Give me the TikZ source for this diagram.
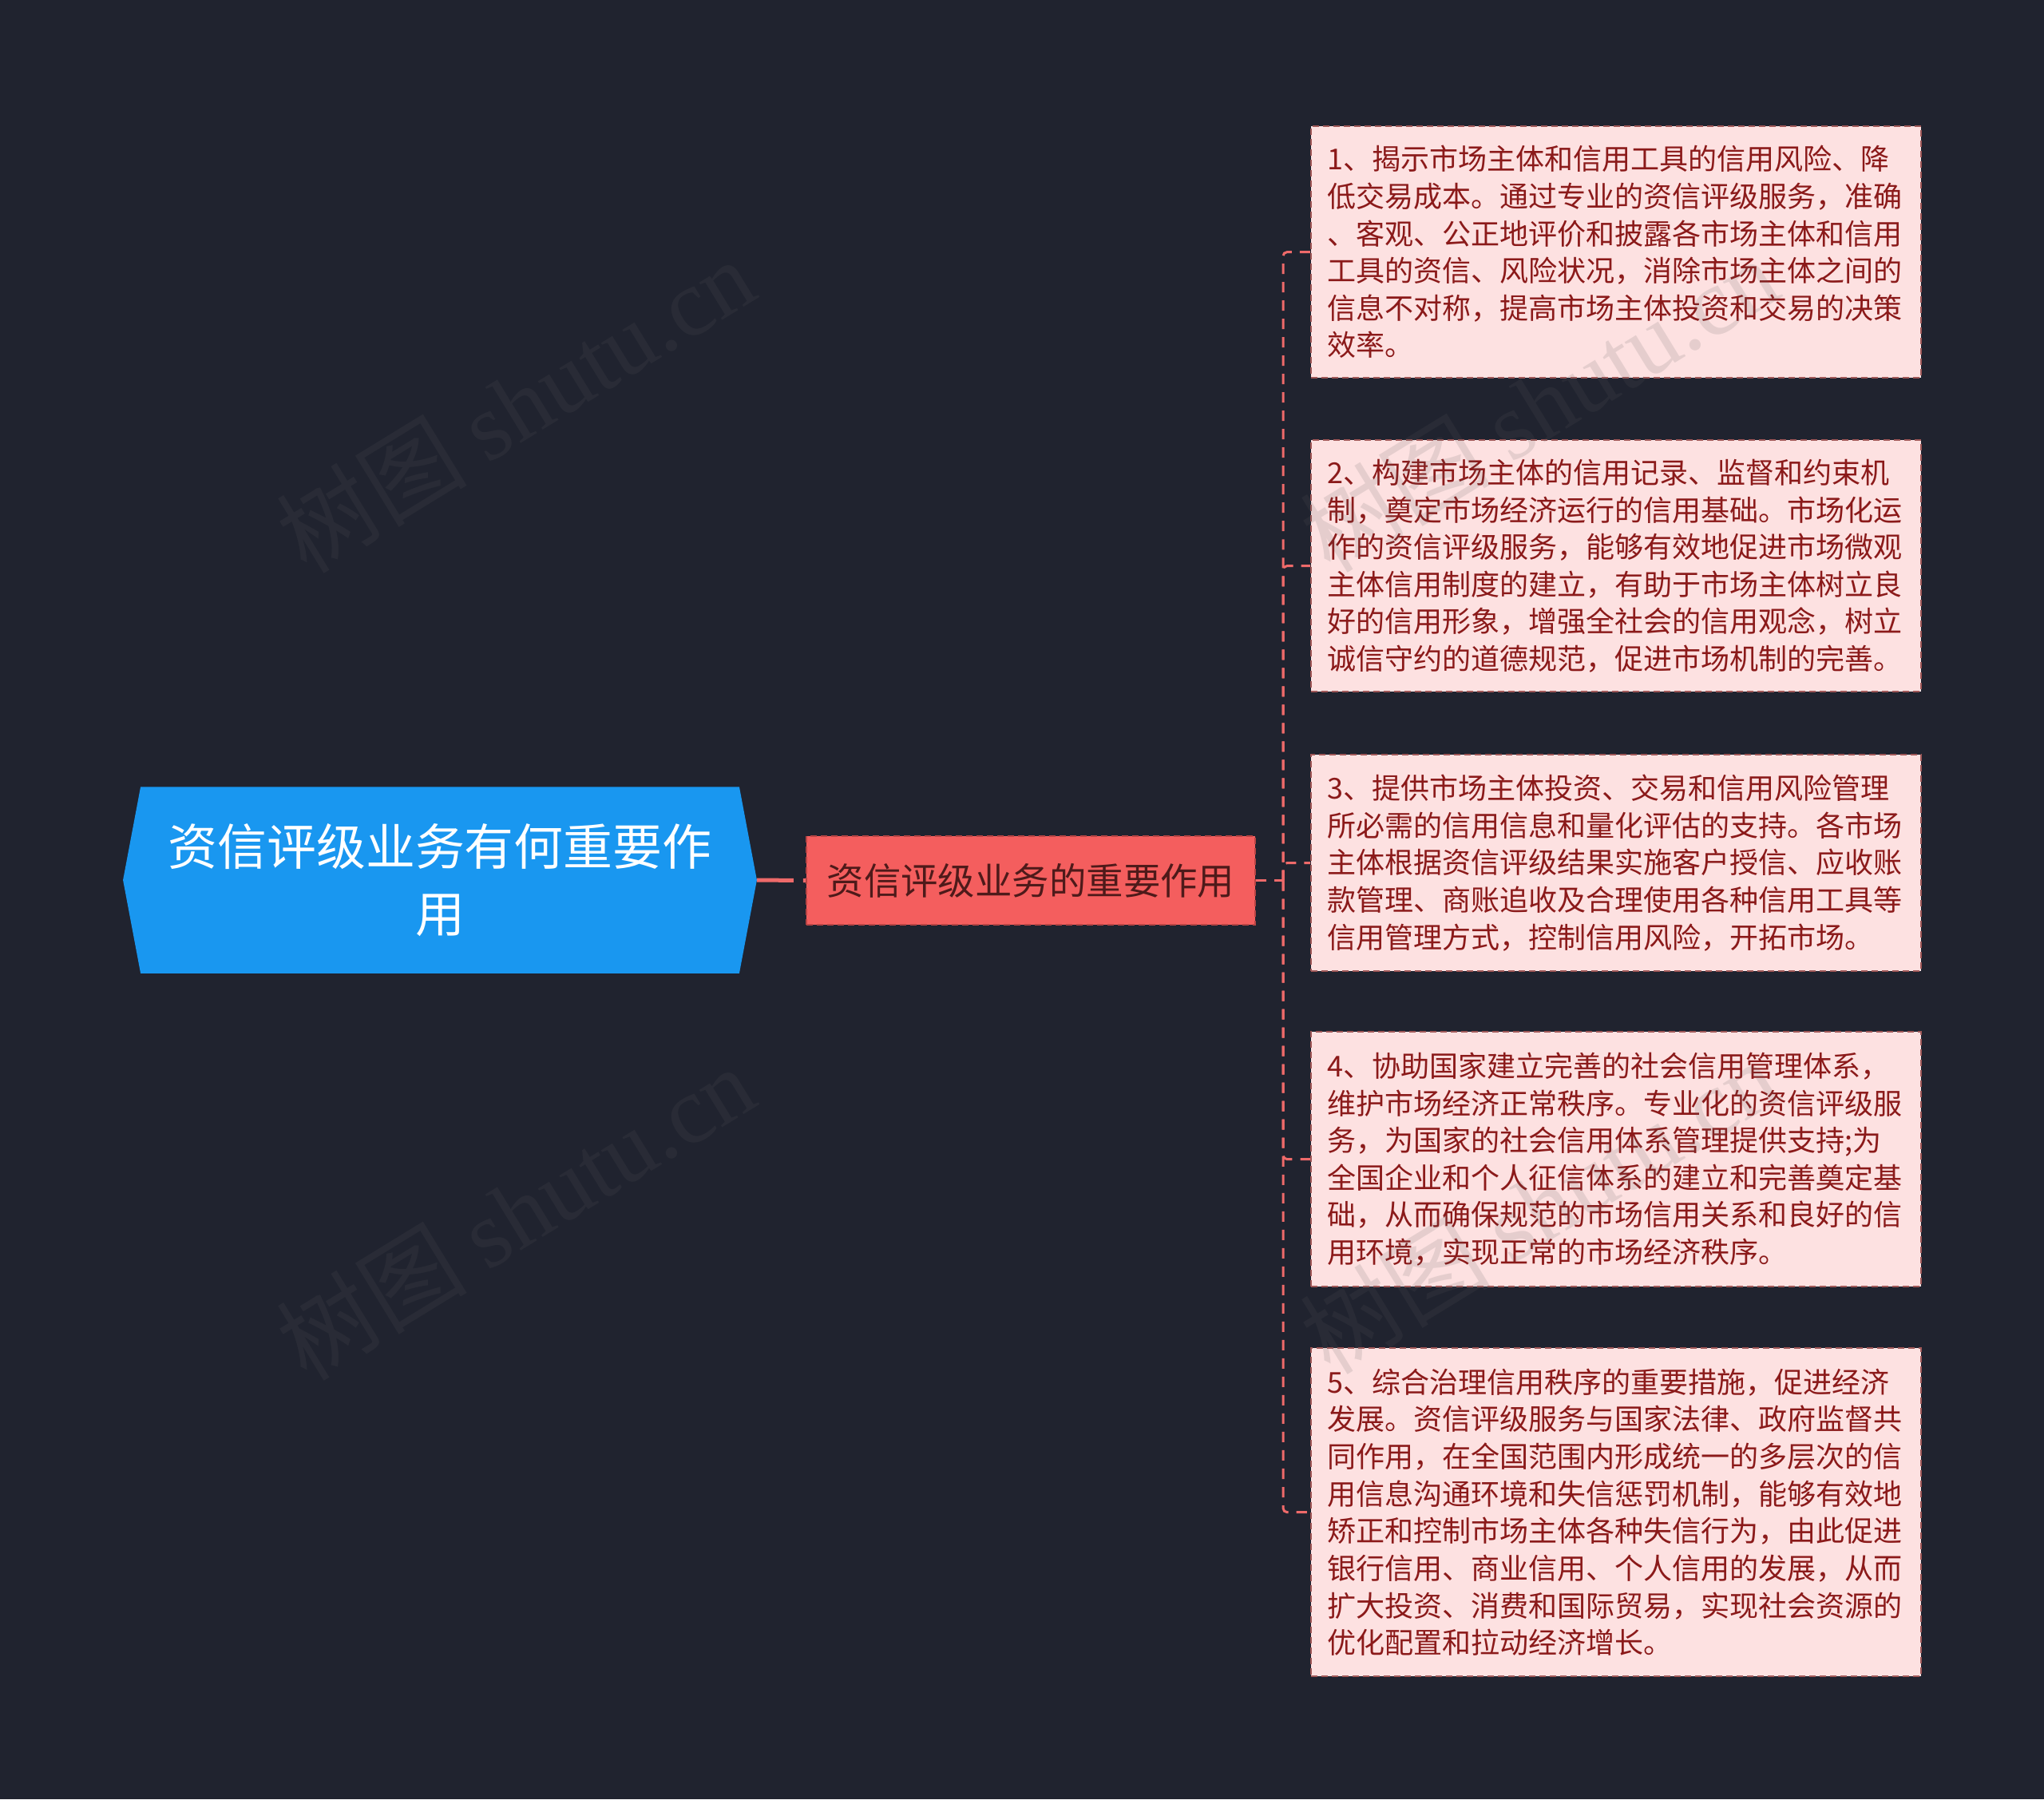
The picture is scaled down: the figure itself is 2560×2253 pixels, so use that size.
\documentclass[tikz,border=0pt]{standalone}
\usepackage{fontspec}
\setmainfont{Noto Sans CJK SC}
\newfontfamily\cjk{Noto Sans CJK SC}
\newfontfamily\wmserif{Liberation Serif}
\definecolor{bgcol}{HTML}{20232F}
\definecolor{rootblue}{HTML}{1997F0}
\definecolor{midfill}{HTML}{F45E5E}
\definecolor{midborder}{HTML}{B84444}
\definecolor{midtext}{HTML}{4E1A1A}
\definecolor{leaffill}{HTML}{FDE1E1}
\definecolor{leafborder}{HTML}{A05858}
\definecolor{leaftext}{HTML}{8B1A1A}
\definecolor{linecol}{HTML}{EE6A6A}
\definecolor{wmcol}{HTML}{5F5F5F}
\tikzset{
  rootbox/.style={rectangle, minimum width=7.92cm, minimum height=2.32cm, inner sep=0pt},
  roottxt/.style={text=white, align=center, font=\fontsize{17.6pt}{23.9pt}\selectfont, inner sep=0pt},
  midbox/.style={rectangle, fill=midfill, draw=midborder, line width=0.02cm, dash pattern=on 0.08cm off 0.05cm,
    minimum width=5.62cm, minimum height=1.11cm, inner sep=0pt, text=midtext,
    font=\fontsize{13.2pt}{16pt}\selectfont},
  leafbox/.style={rectangle, anchor=north west, fill=leaffill, draw=leafborder, line width=0.02cm,
    dash pattern=on 0.08cm off 0.05cm, minimum width=7.64cm, text width=7.24cm, inner xsep=0.2cm,
    inner ysep=0pt, align=left, text=leaftext, font=\fontsize{10.25pt}{13.26pt}\selectfont},
  conn/.style={draw=linecol, line width=0.03cm, dash pattern=on 0.13cm off 0.1cm, rounded corners=0.05cm},
  rootconn/.style={draw=linecol, line width=0.05cm, dash pattern=on 0.46cm off 0.12cm},
  wm/.style={text=wmcol, opacity=0.15, rotate=31.5, inner sep=0pt, font=\fontsize{34pt}{40pt}\selectfont}
}
\begin{document}
\begin{tikzpicture}[x=0.01cm, y=-0.01cm]
\useasboundingbox (0,0) rectangle (2560,2253);
\fill[bgcol] (0,0) rectangle (2560,2253);

% root
\node[rootbox] (root) at (551,1102) {};
\fill[rootblue] (root.west) -- ([xshift=0.22cm]root.north west) -- ([xshift=-0.22cm]root.north east)
  -- (root.east) -- ([xshift=-0.22cm]root.south east) -- ([xshift=0.22cm]root.south west) -- cycle;
\node[roottxt] (roottext) at (root.center) {资信评级业务有何重要作\\用};

% middle
\node[midbox] (mid) at (1291,1102.5) {资信评级业务的重要作用};

% leaves
\node[leafbox, minimum height=3.15cm] (leaf1) at (1641,157) {1、揭示市场主体和信用工具的信用风险、降\\低交易成本。通过专业的资信评级服务，准确\\、客观、公正地评价和披露各市场主体和信用\\工具的资信、风险状况，消除市场主体之间的\\信息不对称，提高市场主体投资和交易的决策\\效率。};
\node[leafbox, minimum height=3.15cm] (leaf2) at (1641,550) {2、构建市场主体的信用记录、监督和约束机\\制，奠定市场经济运行的信用基础。市场化运\\作的资信评级服务，能够有效地促进市场微观\\主体信用制度的建立，有助于市场主体树立良\\好的信用形象，增强全社会的信用观念，树立\\诚信守约的道德规范，促进市场机制的完善。};
\node[leafbox, minimum height=2.71cm] (leaf3) at (1641,944) {3、提供市场主体投资、交易和信用风险管理\\所必需的信用信息和量化评估的支持。各市场\\主体根据资信评级结果实施客户授信、应收账\\款管理、商账追收及合理使用各种信用工具等\\信用管理方式，控制信用风险，开拓市场。};
\node[leafbox, minimum height=3.19cm] (leaf4) at (1641,1291) {4、协助国家建立完善的社会信用管理体系，\\维护市场经济正常秩序。专业化的资信评级服\\务，为国家的社会信用体系管理提供支持;为\\全国企业和个人征信体系的建立和完善奠定基\\础，从而确保规范的市场信用关系和良好的信\\用环境，实现正常的市场经济秩序。};
\node[leafbox, minimum height=4.11cm] (leaf5) at (1641,1687) {5、综合治理信用秩序的重要措施，促进经济\\发展。资信评级服务与国家法律、政府监督共\\同作用，在全国范围内形成统一的多层次的信\\用信息沟通环境和失信惩罚机制，能够有效地\\矫正和控制市场主体各种失信行为，由此促进\\银行信用、商业信用、个人信用的发展，从而\\扩大投资、消费和国际贸易，实现社会资源的\\优化配置和拉动经济增长。};

% connectors
\draw[rootconn] (root.east) -- (mid.west);
\coordinate (fork) at (1607,1102.5);
\draw[conn] (mid.east) -- (fork);
\foreach \i in {1,...,5} {
  \draw[conn] (fork) |- (leaf\i.west);
}

% watermarks
\node[wm] (wm1) at (645,507) {{\cjk 树图} {\wmserif shutu.cn}};
\node[wm] (wm2) at (645,1518) {{\cjk 树图} {\wmserif shutu.cn}};
\node[wm] (wm3) at (1927,506) {{\cjk 树图} {\wmserif shutu.cn}};
\node[wm] (wm4) at (1927,1510) {{\cjk 树图} {\wmserif shutu.cn}};
\end{tikzpicture}
\end{document}
